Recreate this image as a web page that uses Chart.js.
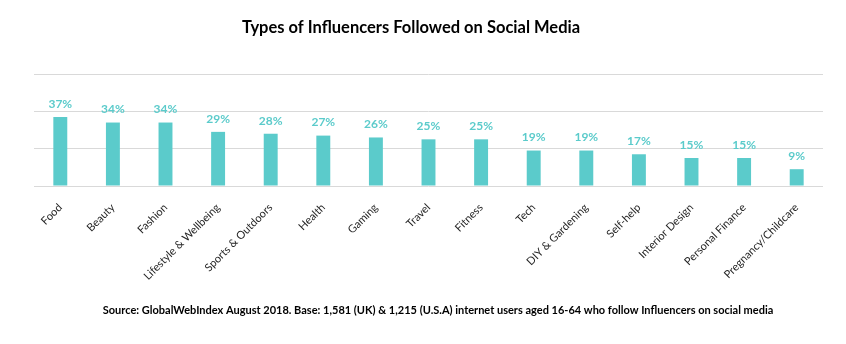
<!DOCTYPE html>
<html>
<head>
<meta charset="utf-8">
<script src="https://cdn.jsdelivr.net/npm/chart.js@4.4.0/dist/chart.umd.min.js"></script>
<style>
  html, body { margin: 0; padding: 0; background: #ffffff; }
  #wrap { width: 846px; height: 344px; }
</style>
</head>
<body>
<div id="wrap"><canvas id="influencerChart"></canvas></div>
<script>
/* ---------- data ---------- */
const categories = ['Food', 'Beauty', 'Fashion', 'Lifestyle & Wellbeing', 'Sports & Outdoors',
    'Health', 'Gaming', 'Travel', 'Fitness', 'Tech', 'DIY & Gardening', 'Self-help',
    'Interior Design', 'Personal Finance', 'Pregnancy/Childcare'];
const sharePct = [37, 34, 34, 29, 28, 27, 26, 25, 25, 19, 19, 17, 15, 15, 9];
const yTicks = [0, 20, 40, 60];

const chartTitle = 'Types of Influencers Followed on Social Media';
const sourceNote = 'Source: GlobalWebIndex August 2018. Base: 1,581 (UK) & 1,215 (U.S.A) internet users aged 16-64 who follow Influencers on social media';

const TEAL = '#5bcbcb';
const FONT = 'Lato, "Open Sans", sans-serif';

/* ---------- value labels above bars ---------- */
const valueLabels = {
    id: 'valueLabels',
    afterDatasetsDraw(chart) {
        const ctx = chart.ctx;
        const meta = chart.getDatasetMeta(0);
        ctx.save();
        ctx.font = 'bold 12px ' + FONT;
        ctx.fillStyle = TEAL;
        ctx.textAlign = 'center';
        ctx.textBaseline = 'bottom';
        meta.data.forEach((bar, i) => {
            ctx.fillText(sharePct[i] + '%', bar.x, bar.y - 7);
        });
        ctx.restore();
    }
};

/* ---------- title + source text ---------- */
const headerFooter = {
    id: 'headerFooter',
    afterDraw(chart) {
        const ctx = chart.ctx;
        ctx.save();
        ctx.fillStyle = '#000000';
        ctx.textAlign = 'center';
        ctx.textBaseline = 'middle';
        ctx.font = 'bold 16.5px ' + FONT;
        ctx.fillText(chartTitle, 411, 28);
        ctx.font = 'bold 11px ' + FONT;
        ctx.fillText(sourceNote, 438, 310);
        ctx.restore();
    }
};

const ctx = document.getElementById('influencerChart').getContext('2d');

const chart = new Chart(ctx, {
    type: 'bar',
    data: {
        labels: categories,
        datasets: [{
            data: sharePct,
            backgroundColor: TEAL,
            borderWidth: 0,
            barPercentage: 0.53,
            categoryPercentage: 0.5
        }]
    },
    options: {
        responsive: true,
        maintainAspectRatio: false,
        animation: false,
        layout: {
            padding: { top: 74, left: 34, right: 23, bottom: 0 }
        },
        plugins: {
            legend: { display: false },
            title: { display: false },
            tooltip: { enabled: false }
        },
        scales: {
            x: {
                grid: { display: false, drawTicks: false },
                border: { display: false },
                ticks: {
                    color: '#262626',
                    font: { family: FONT, size: 11 },
                    minRotation: 45,
                    maxRotation: 45,
                    autoSkip: false,
                    padding: 15
                },
                afterFit(scale) {
                    scale.height = 158;
                }
            },
            y: {
                min: 0,
                max: 60,
                afterBuildTicks(scale) {
                    scale.ticks = yTicks.map(v => ({ value: v }));
                },
                grid: { color: '#d9d9d9', lineWidth: 1, drawTicks: false },
                border: { display: false },
                ticks: { display: false }
            }
        }
    },
    plugins: [valueLabels, headerFooter]
});
</script>
</body>
</html>
